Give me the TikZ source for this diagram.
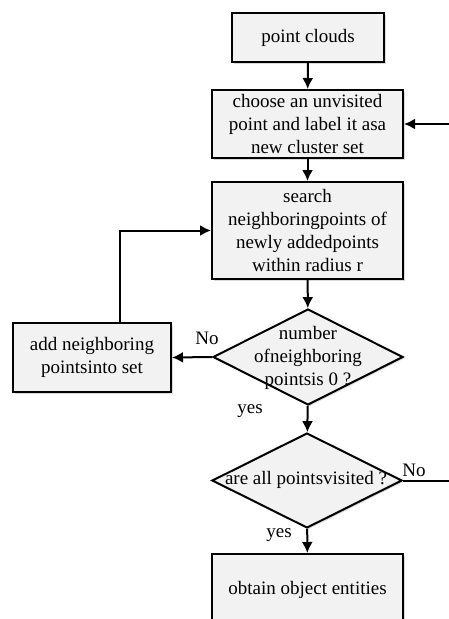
\documentclass[tikz,border=0pt]{standalone}
\usepackage{fontspec}
\setmainfont{Liberation Serif}
\usetikzlibrary{arrows.meta}
\usetikzlibrary{shapes.geometric}
\usetikzlibrary{shadows}
\definecolor{lgray}{rgb}{0.95, 0.95, 0.95}
\tikzset{proc/.style = {draw, line width=2, fill=lgray, inner sep=0,
                        align=center, font=\fontsize{19}{23}\selectfont,
                        drop shadow={shadow xshift=1.5pt, shadow yshift=-1.5pt,
                                     opacity=0.3}}}
\tikzset{dec/.style = {proc, shape=diamond}}
\tikzset{arr/.style = {line width=2, -{Latex[length=11, width=11]}}}
\tikzset{lbl/.style = {font=\fontsize{19}{23}\selectfont, inner sep=0}}

\begin{document}
\begin{tikzpicture}[x=1pt, y=-1pt]
      \useasboundingbox (0, 0) rectangle (449, 619);
      \clip (0, 0) rectangle (449, 619);
      \node [proc, minimum width=152, minimum height=49] (clouds) at (308, 37.5) {point clouds};
      \node [proc, minimum width=191, minimum height=68] (choose) at (307.5, 124)
            {choose an unvisited\\point and label it asa\\new cluster set};
      \node [proc, minimum width=191, minimum height=97] (search) at (307.5, 230.5)
            {search\\neighboringpoints of\\newly addedpoints\\within radius r};
      \node [dec, minimum width=190, minimum height=96] (zero) at (308, 357) {};
      \node [lbl, align=center] (zerotxt) at (308, 358) {number\\ofneighboring\\pointsis 0 ?};
      \node [proc, minimum width=158, minimum height=69] (addset) at (92, 357.5)
            {add neighboring\\pointsinto set};
      \node [dec, minimum width=190, minimum height=95] (visited) at (307, 480.5) {};
      \node [lbl] (visitedtxt) at (306, 480) {are all pointsvisited ?};
      \node [proc, minimum width=191, minimum height=72] (obtain) at (307.5, 590) {obtain object entities};
      \draw [arr] (clouds) -- (choose);
      \draw [arr] (choose) -- (search);
      \draw [arr] (search) -- (zero);
      \draw [arr] (zero.west) -- (addset.east);
      \draw [arr] ([xshift=28]addset.north) |- (search.west);
      \draw [arr] (zero) -- (visited);
      \draw [arr] (visited) -- (obtain);
      \draw [arr] (visited.east) -- ++(70, 0) |- (choose.east);
      \node [lbl] (no1) at (207, 338) {No};
      \node [lbl] (yes1) at (250, 411) {yes};
      \node [lbl] (no2) at (414, 470) {No};
      \node [lbl] (yes2) at (279, 535) {yes};
    \end{tikzpicture}
\end{document}
